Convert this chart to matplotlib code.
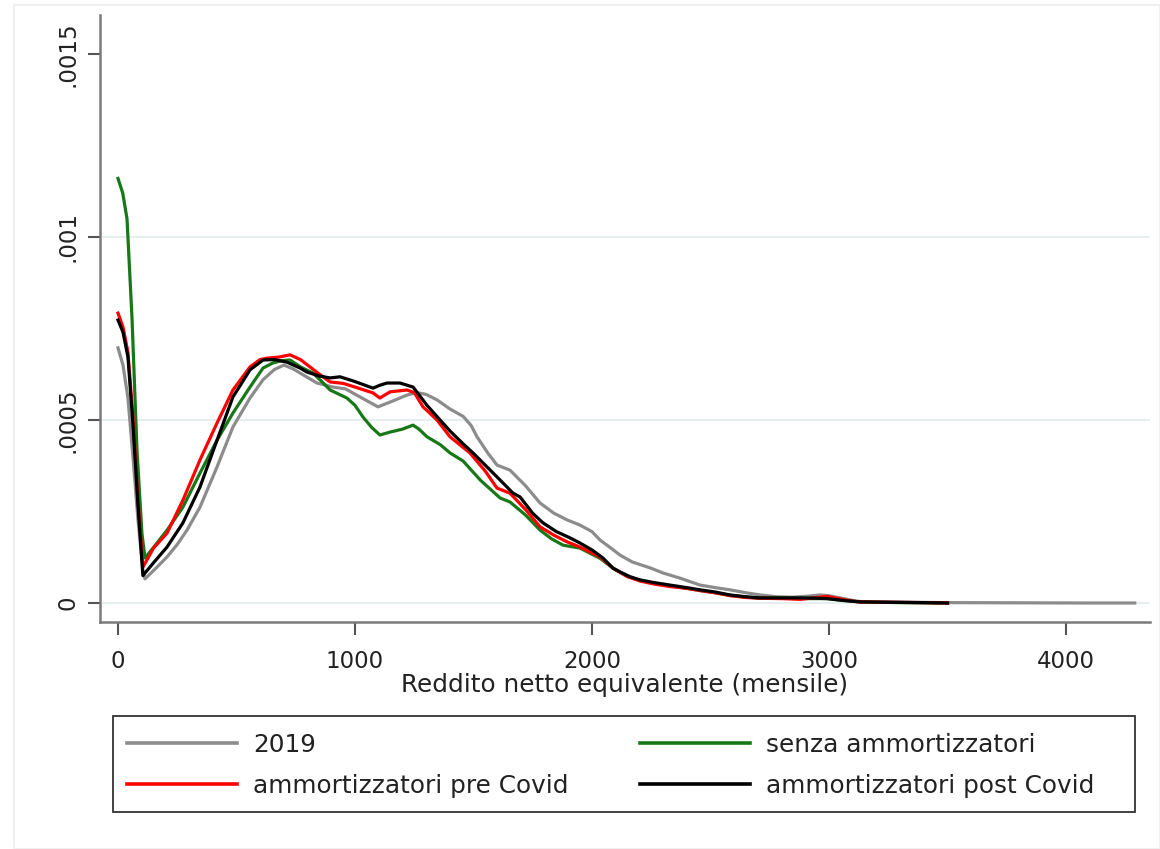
import matplotlib
matplotlib.use("Agg")
import matplotlib.pyplot as plt
import numpy as np

plt.rcParams['font.family'] = ['DejaVu Sans']

SCALE = 1e-4  # densities below are in units of 1e-4

# 2019
x_2019 = [0, 21, 42, 63, 84, 105, 114, 160, 207, 250, 291, 346, 418, 485, 557, 612, 660, 700, 738, 790,
          840, 907, 960, 1021, 1097, 1148, 1219, 1260, 1300, 1346, 1401, 1456, 1490, 1515, 1560, 1599, 1654,
          1720, 1781, 1840, 1895, 1949, 2000, 2034, 2080, 2118, 2170, 2245, 2300, 2371, 2456, 2520, 2582,
          2650, 2709, 2780, 2848, 2900, 2962, 3000, 3046, 3100, 3131, 3200, 3350, 3500, 3800, 4100, 4290]
y_2019 = [6.97, 6.5, 5.6, 4.0, 2.3, 0.9, 0.66, 0.95, 1.26, 1.6, 1.99, 2.62, 3.72, 4.81, 5.6, 6.1, 6.38, 6.5, 6.4, 6.2,
          6.01, 5.9, 5.85, 5.63, 5.36, 5.49, 5.68, 5.75, 5.7, 5.55, 5.3, 5.1, 4.85, 4.54, 4.1, 3.77, 3.63,
          3.2, 2.73, 2.45, 2.27, 2.13, 1.95, 1.72, 1.5, 1.31, 1.12, 0.96, 0.82, 0.68, 0.49, 0.42, 0.36,
          0.28, 0.22, 0.17, 0.16, 0.18, 0.22, 0.2, 0.14, 0.07, 0.04, 0.03, 0.02, 0.01, 0.005, 0.0, 0.0]

# senza ammortizzatori
x_senza = [0, 20, 38, 59, 80, 101, 114, 160, 207, 274, 346, 418, 485, 557, 612, 654, 690, 726, 770, 823,
           860, 895, 966, 1000, 1034, 1070, 1105, 1148, 1200, 1245, 1270, 1304, 1359, 1401, 1456, 1530,
           1612, 1654, 1720, 1781, 1830, 1878, 1949, 2034, 2089, 2150, 2203, 2260, 2329, 2400, 2456, 2520,
           2582, 2650, 2709, 2800, 2878, 2992, 3060, 3131, 3300, 3500]
y_senza = [11.6, 11.2, 10.5, 7.8, 4.2, 1.9, 1.23, 1.6, 1.99, 2.62, 3.55, 4.45, 5.19, 5.90, 6.42, 6.56, 6.62, 6.64, 6.45, 6.28,
           6.05, 5.82, 5.60, 5.4, 5.08, 4.8, 4.59, 4.67, 4.75, 4.86, 4.75, 4.54, 4.33, 4.10, 3.88, 3.35,
           2.87, 2.76, 2.4, 1.99, 1.75, 1.58, 1.50, 1.22, 0.95, 0.72, 0.62, 0.54, 0.47, 0.4, 0.34, 0.28,
           0.21, 0.16, 0.13, 0.13, 0.12, 0.12, 0.07, 0.03, 0.01, 0.0]

# ammortizzatori pre Covid
x_pre = [0, 21, 42, 63, 84, 105, 150, 207, 274, 346, 418, 485, 557, 599, 629, 680, 726, 770, 810, 850,
         895, 950, 1000, 1076, 1105, 1148, 1219, 1250, 1287, 1346, 1401, 1485, 1550, 1599, 1654, 1720,
         1781, 1840, 1895, 1949, 2034, 2089, 2150, 2203, 2260, 2329, 2400, 2456, 2520, 2582, 2650, 2709,
         2800, 2878, 2950, 2992, 3040, 3100, 3131, 3250, 3400, 3500]
y_pre = [7.92, 7.54, 6.85, 5.08, 2.81, 0.98, 1.5, 1.91, 2.81, 3.91, 4.92, 5.82, 6.45, 6.65, 6.69, 6.72, 6.78, 6.65, 6.45, 6.25,
         6.04, 6.0, 5.9, 5.74, 5.60, 5.77, 5.82, 5.75, 5.36, 5.0, 4.54, 4.10, 3.6, 3.14, 3.0, 2.55,
         2.08, 1.85, 1.67, 1.53, 1.26, 0.95, 0.72, 0.6, 0.52, 0.45, 0.4, 0.34, 0.28, 0.2, 0.15, 0.13,
         0.12, 0.1, 0.15, 0.18, 0.12, 0.05, 0.03, 0.02, 0.01, 0.0]

# ammortizzatori post Covid
x_post = [0, 21, 42, 63, 84, 105, 150, 207, 274, 346, 418, 485, 557, 612, 660, 713, 768, 797, 850, 895,
          937, 1000, 1076, 1105, 1135, 1190, 1245, 1304, 1359, 1401, 1456, 1498, 1560, 1612, 1667, 1696,
          1750, 1793, 1850, 1907, 1949, 2000, 2046, 2089, 2118, 2160, 2203, 2260, 2329, 2400, 2456, 2520,
          2582, 2650, 2709, 2800, 2878, 2950, 2992, 3060, 3131, 3250, 3400, 3500]
y_post = [7.73, 7.4, 6.72, 4.9, 2.7, 0.75, 1.1, 1.53, 2.19, 3.17, 4.45, 5.63, 6.37, 6.64, 6.65, 6.58, 6.42, 6.31, 6.2, 6.15,
          6.18, 6.05, 5.87, 5.95, 6.01, 6.01, 5.9, 5.4, 5.0, 4.7, 4.35, 4.1, 3.7, 3.36, 3.0, 2.9,
          2.45, 2.19, 1.95, 1.78, 1.64, 1.45, 1.23, 0.95, 0.85, 0.72, 0.63, 0.56, 0.49, 0.42, 0.36, 0.3,
          0.22, 0.17, 0.14, 0.14, 0.14, 0.13, 0.12, 0.07, 0.03, 0.02, 0.01, 0.0]

series = [
    ("2019", x_2019, y_2019, "#8c8c8c"),
    ("senza ammortizzatori", x_senza, y_senza, "#187818"),
    ("ammortizzatori pre Covid", x_pre, y_pre, "#ff0000"),
    ("ammortizzatori post Covid", x_post, y_post, "#000000"),
]

x_ticks = [0, 1000, 2000, 3000, 4000]
y_ticks = [0, 0.0005, 0.001, 0.0015]
y_ticklabels = ["0", ".0005", ".001", ".0015"]

W, H = 1160, 849
fig = plt.figure(figsize=(W / 100, H / 100), dpi=100)
fig.patch.set_facecolor("white")

# faint outer frame
fig.add_artist(plt.Rectangle((14 / W, 0), (W - 14) / W, (H - 5) / H, transform=fig.transFigure,
                             fill=False, edgecolor="#f0f0f0", lw=1.5))

ax = fig.add_axes([100 / W, (H - 622) / H, (1150 - 100) / W, (622 - 15) / H])
ax.set_facecolor("white")

lines = {}
for name, xs, ys, col in series:
    ln, = ax.plot(xs, np.array(ys) * SCALE, color=col, lw=2.3, solid_joinstyle="round", label=name)
    lines[name] = ln

px_per_x = 237 / 1000
ax.set_xlim((100 - 118) / px_per_x, (1150 - 118) / px_per_x)
ax.set_ylim((603 - 622) / 366 * 0.001, (603 - 15) / 366 * 0.001)

for yv in [0, 0.0005, 0.001]:
    ax.axhline(yv, color="#e6eef0", lw=1.5, zorder=0)

for s in ["top", "right"]:
    ax.spines[s].set_visible(False)
for s in ["left", "bottom"]:
    ax.spines[s].set_color("#7a7a7a")
    ax.spines[s].set_linewidth(1.8)

TXT = "#222222"
ax.set_xticks(x_ticks)
ax.set_xticklabels([str(v) for v in x_ticks], fontsize=16.5, color=TXT)
ax.set_yticks(y_ticks)
ax.set_yticklabels(y_ticklabels, fontsize=16.5, rotation=90, va="center", color=TXT)
ax.tick_params(axis="both", length=9, width=1.5, color="#555555")
ax.tick_params(axis="x", pad=11)
ax.tick_params(axis="y", pad=6)
ax.set_xlabel("Reddito netto equivalente (mensile)", fontsize=17.8, color=TXT, labelpad=0)

# legend frame
fig.add_artist(plt.Rectangle((113 / W, (H - 812) / H), (1135 - 113) / W, 96 / H,
                             transform=fig.transFigure, fill=False, edgecolor="#333333", lw=1.3))

LFS = 17.8
fs_px = LFS * 100 / 72
common = dict(loc="center left", frameon=False, fontsize=LFS, borderpad=0.0, borderaxespad=0.0,
              handlelength=110 / fs_px, handletextpad=16 / fs_px, labelspacing=0.68)
col1 = [lines["2019"], lines["ammortizzatori pre Covid"]]
col2 = [lines["senza ammortizzatori"], lines["ammortizzatori post Covid"]]
yc = (H - 765.5) / H
leg1 = fig.legend(handles=col1, labels=[h.get_label() for h in col1],
                  bbox_to_anchor=(127 / W, yc), **common)
leg2 = fig.legend(handles=col2, labels=[h.get_label() for h in col2],
                  bbox_to_anchor=(640 / W, yc), **common)
for lg in (leg1, leg2):
    for t in lg.get_texts():
        t.set_color(TXT)
    for h in lg.legend_handles:
        h.set_linewidth(2.6)

fig.savefig("out.png", dpi=100, facecolor="white")
